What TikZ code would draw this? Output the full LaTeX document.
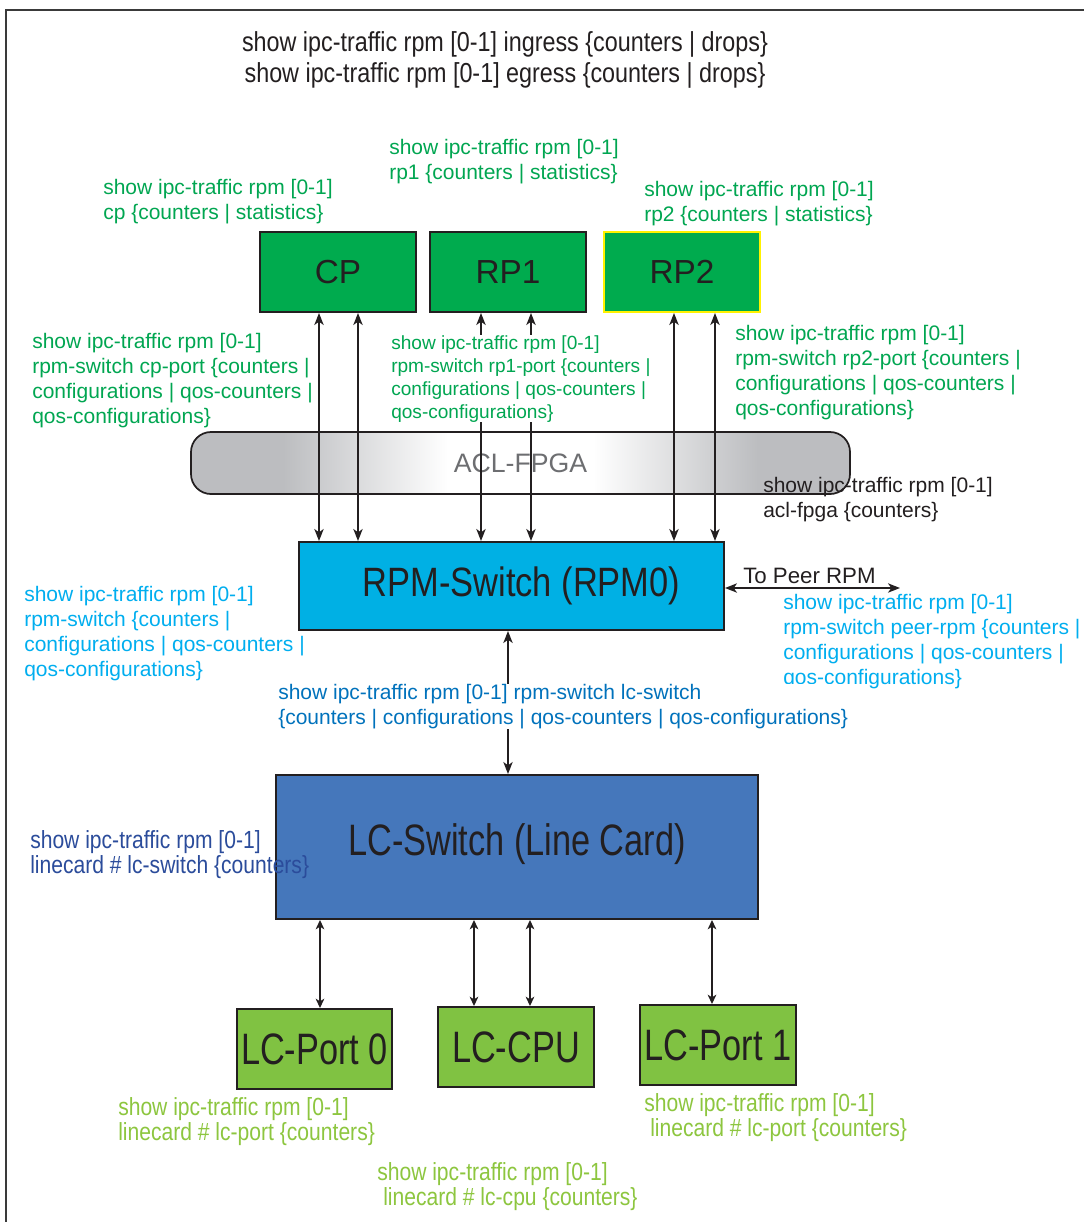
\documentclass[tikz,border=0pt]{standalone}
\usepackage{fontspec}
\setmainfont{Liberation Sans}
\newfontfamily\condfont[FakeStretch=0.85]{Liberation Sans}
\newfontfamily\boxcondA[FakeStretch=0.84]{Liberation Sans}
\newfontfamily\boxcondB[FakeStretch=0.78]{Liberation Sans}
\usetikzlibrary{arrows.meta}
\definecolor{inkc}{HTML}{231F20}
\definecolor{framec}{HTML}{3A3A3A}
\definecolor{grnlbl}{HTML}{00A651}
\definecolor{grnbox}{HTML}{00AB4E}
\definecolor{cyanlbl}{HTML}{00AEEF}
\definecolor{cyanbox}{HTML}{00B0E4}
\definecolor{bluelbl}{HTML}{0072BC}
\definecolor{dbluelbl}{HTML}{2B4C9B}
\definecolor{lcbox}{HTML}{4577BB}
\definecolor{lgrnlbl}{HTML}{8DC63F}
\definecolor{lgrnbox}{HTML}{80C242}
\definecolor{aclgray}{HTML}{BCBDC0}
\definecolor{acltext}{HTML}{6D6E71}
\definecolor{rpyellow}{HTML}{FFF200}
\pgfdeclarehorizontalshading{aclshade}{100bp}{color(0bp)=(aclgray); color(32bp)=(aclgray); color(44.5bp)=(white); color(55.5bp)=(white); color(68bp)=(aclgray); color(100bp)=(aclgray)}
\newcommand\lblfont{\fontsize{15.75pt}{18.75pt}\selectfont}
\newcommand\smlfont{\fontsize{14.3pt}{17.25pt}\selectfont}
\newcommand\topfont{\condfont\fontsize{20.6pt}{23.25pt}\selectfont}
\newcommand\lcfont{\condfont\fontsize{18.6pt}{18.75pt}\selectfont}
\tikzset{
  box/.style={draw=inkc, line width=1.5pt, inner sep=0pt, text=inkc},
  lbl/.style={anchor=north west, inner sep=0pt, align=left, font=\lblfont},
  dar/.style={{Stealth[length=9pt,width=7pt,inset=2.5pt]}-{Stealth[length=9pt,width=7pt,inset=2.5pt]}, line width=1.1pt, draw=inkc},
  sdar/.style={{Stealth[length=7pt,width=6.5pt,inset=2pt]}-{Stealth[length=7pt,width=6.5pt,inset=2pt]}, line width=1.1pt, draw=inkc}
}
\begin{document}
\begin{tikzpicture}[x=0.75pt,y=-0.75pt]
\useasboundingbox (0,0) rectangle (1084,1222);
\fill[white] (0,0) rectangle (1084,1222);
\draw[framec, line width=1.5pt] (6,1222) -- (6,10) -- (1084,10);

% boxes
\node[box, fill=grnbox, minimum width=117pt, minimum height=60pt, font=\fontsize{25pt}{30pt}\selectfont] (cp) at (338,272) {CP};
\node[box, fill=grnbox, minimum width=117pt, minimum height=60pt, font=\fontsize{25pt}{30pt}\selectfont] (rp1) at (508,272) {RP1};
\node[box, fill=grnbox, draw=rpyellow, minimum width=117pt, minimum height=60pt, font=\fontsize{25pt}{30pt}\selectfont] (rp2) at (682,272) {RP2};
\node[draw=inkc, line width=1.3pt, rounded corners=15pt, shading=aclshade, minimum width=494.25pt, minimum height=46.5pt, inner sep=0pt, text=acltext, font=\fontsize{20pt}{24pt}\selectfont] (acl) at (520.5,463) {ACL-FPGA};
\node[box, fill=cyanbox, minimum width=318.75pt, minimum height=66pt, font=\boxcondA\fontsize{30.75pt}{36pt}\selectfont] (rpm) at (511.5,586) {\hspace*{15pt}RPM-Switch (RPM0)};
\node[box, fill=lcbox, minimum width=361.5pt, minimum height=108pt, font=\boxcondB\fontsize{33pt}{38pt}\selectfont] (lc) at (517,847) {\raisebox{11pt}{LC-Switch (Line Card)}};
\node[box, fill=lgrnbox, minimum width=116.25pt, minimum height=60pt, font=\boxcondB\fontsize{33pt}{38pt}\selectfont] (lcp0) at (314.5,1049) {LC-Port 0};
\node[box, fill=lgrnbox, minimum width=117pt, minimum height=60pt, font=\boxcondB\fontsize{33pt}{38pt}\selectfont] (lccpu) at (516,1047) {LC-CPU};
\node[box, fill=lgrnbox, minimum width=117pt, minimum height=60pt, font=\boxcondB\fontsize{33pt}{38pt}\selectfont] (lcp1) at (718,1045) {LC-Port 1};

% x positions of connectors
\coordinate (xa) at (319,0);
\coordinate (xb) at (358,0);
\coordinate (xc) at (481,0);
\coordinate (xd) at (531,0);
\coordinate (xe) at (674,0);
\coordinate (xf) at (715,0);
\coordinate (xg) at (508,0);
\coordinate (xh) at (320,0);
\coordinate (xi) at (474,0);
\coordinate (xj) at (530,0);
\coordinate (xk) at (712,0);
\coordinate (peer) at (900,588);

% connectors
\draw[dar] (xa |- cp.south) -- (xa |- rpm.north);
\draw[dar] (xb |- cp.south) -- (xb |- rpm.north);
\draw[dar] (xc |- rp1.south) -- (xc |- rpm.north);
\draw[dar] (xd |- rp1.south) -- (xd |- rpm.north);
\draw[dar] (xe |- rp2.south) -- (xe |- rpm.north);
\draw[dar] (xf |- rp2.south) -- (xf |- rpm.north);
\draw[dar] (xg |- rpm.south) -- (xg |- lc.north);
\draw[dar] (rpm.east |- peer) -- (peer);
\draw[sdar] (xh |- lc.south) -- (xh |- lcp0.north);
\draw[sdar] (xi |- lc.south) -- (xi |- lccpu.north);
\draw[sdar] (xj |- lc.south) -- (xj |- lccpu.north);
\draw[sdar] (xk |- lc.south) -- (xk |- lcp1.north);

% labels
\node[anchor=north, inner sep=0pt, align=center, font=\topfont, text=inkc] (toplbl) at (505,31) {show ipc-traffic rpm [0-1] ingress \{counters | drops\}\\show ipc-traffic rpm [0-1] egress \{counters | drops\}};
\node[lbl, text=grnlbl] (cplbl) at (103,179) {show ipc-traffic rpm [0-1]\\cp \{counters | statistics\}};
\node[lbl, text=grnlbl] (rp1lbl) at (389,139) {show ipc-traffic rpm [0-1]\\rp1 \{counters | statistics\}};
\node[lbl, text=grnlbl] (rp2lbl) at (644,181) {show ipc-traffic rpm [0-1]\\rp2 \{counters | statistics\}};
\node[lbl, text=grnlbl] (cpport) at (32,333) {show ipc-traffic rpm [0-1]\\rpm-switch cp-port \{counters |\\configurations | qos-counters |\\qos-configurations\}};
\node[lbl, text=grnlbl, fill=white, font=\smlfont] (rp1port) at (391,335) {show ipc-traffic rpm [0-1]\\rpm-switch rp1-port \{counters |\\configurations | qos-counters |\\qos-configurations\}};
\node[lbl, text=grnlbl] (rp2port) at (735,325) {show ipc-traffic rpm [0-1]\\rpm-switch rp2-port \{counters |\\configurations | qos-counters |\\qos-configurations\}};
\node[lbl, text=inkc] (acllbl) at (763,477) {show ipc-traffic rpm [0-1]\\acl-fpga \{counters\}};
\node[lbl, text=cyanlbl] (rpmlbl) at (24,586) {show ipc-traffic rpm [0-1]\\rpm-switch \{counters |\\configurations | qos-counters |\\qos-configurations\}};
\node[anchor=base west, inner sep=0pt, text=inkc, font=\fontsize{16.7pt}{20pt}\selectfont] (peerlbl) at (743,583) {To Peer RPM};
\node[lbl, text=cyanlbl] (peerport) at (783,594) {show ipc-traffic rpm [0-1]\\rpm-switch peer-rpm \{counters |\\configurations | qos-counters |\\qos-configurations\}};
\node[lbl, text=bluelbl, fill=white] (lclink) at (278,684) {show ipc-traffic rpm [0-1] rpm-switch lc-switch\\\{counters | configurations | qos-counters | qos-configurations\}};
\node[lbl, text=dbluelbl, font=\lcfont] (lcswlbl) at (30,830) {show ipc-traffic rpm [0-1]\\linecard \# lc-switch \{counters\}};
\node[lbl, text=lgrnlbl, font=\lcfont] (lcp0lbl) at (118,1097) {show ipc-traffic rpm [0-1]\\linecard \# lc-port \{counters\}};
\node[lbl, text=lgrnlbl, font=\lcfont] (lcp1lbl) at (644,1093) {show ipc-traffic rpm [0-1]\\\hspace*{4.5pt}linecard \# lc-port \{counters\}};
\node[lbl, text=lgrnlbl, font=\lcfont] (lccpulbl) at (377,1162) {show ipc-traffic rpm [0-1]\\\hspace*{4.5pt}linecard \# lc-cpu \{counters\}};
\end{tikzpicture}
\end{document}
